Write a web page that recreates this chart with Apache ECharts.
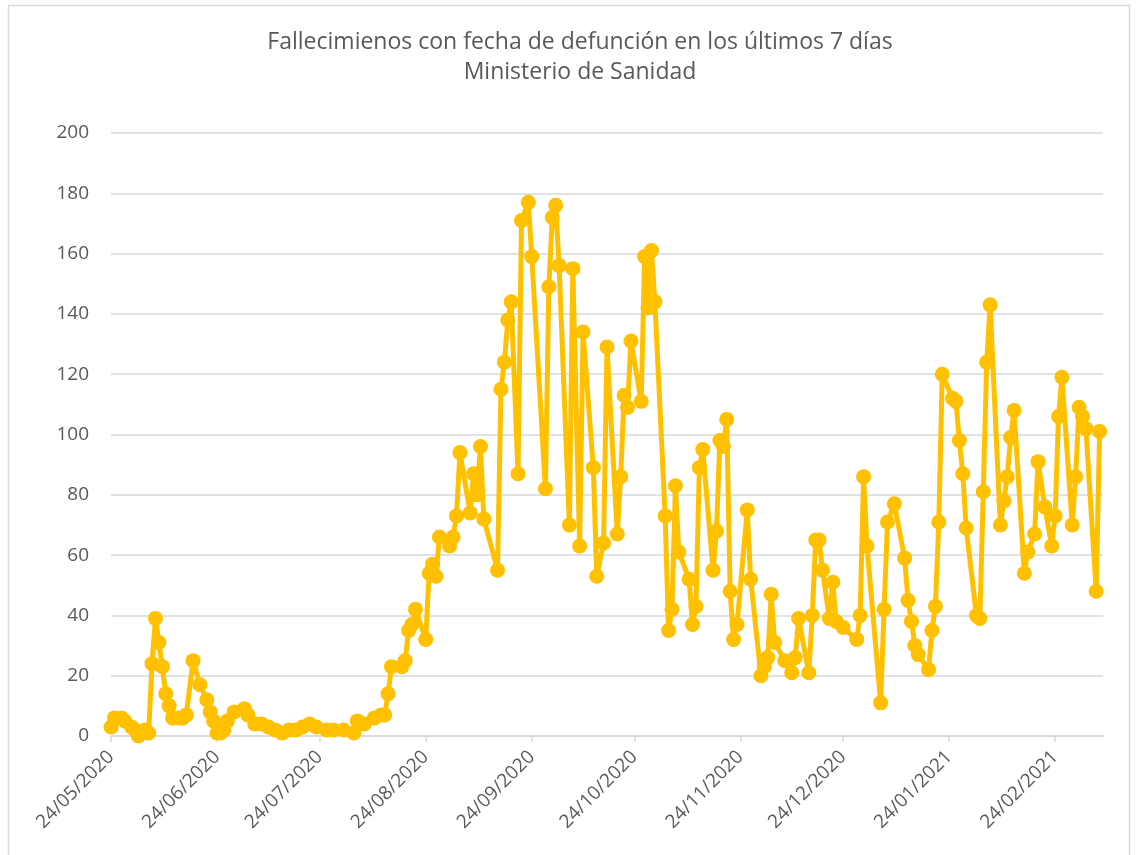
<!DOCTYPE html>
<html>
<head>
<meta charset="utf-8">
<script src="https://cdn.jsdelivr.net/npm/echarts@6/dist/echarts.min.js"></script>
<style>
  html, body { margin: 0; padding: 0; background: #fff; }
  #chart { width: 1136px; height: 855px; }
</style>
</head>
<body>
<div id="chart"></div>
<script>
// days since 24/05/2020 for each published figure
const dayOffsets = [
  0, 1, 3, 4, 6, 7, 8, 10, 11, 12, 13, 14, 15, 16, 17, 18, 20, 21, 22, 24,
  26, 28, 29, 30, 31, 32, 33, 34, 36, 39, 40, 42, 44, 46, 48, 50, 52, 54, 56, 58,
  60, 63, 65, 68, 71, 72, 74, 77, 79, 80, 81, 82, 85, 86, 87, 88, 89, 92, 93, 94,
  95, 96, 99, 100, 101, 102, 105, 106, 107, 108, 109, 113, 114, 115, 116, 117, 119, 120, 122, 123,
  127, 128, 129, 130, 131, 134, 135, 137, 138, 141, 142, 144, 145, 148, 149, 150, 151, 152, 155, 156,
  157, 158, 159, 162, 163, 164, 165, 166, 169, 170, 171, 172, 173, 176, 177, 178, 179, 180, 181, 182,
  183, 186, 187, 190, 191, 192, 193, 194, 197, 199, 200, 201, 204, 205, 206, 207, 208, 210, 211, 212,
  214, 218, 219, 220, 221, 225, 226, 227, 229, 232, 233, 234, 235, 236, 239, 240, 241, 242, 243, 246,
  247, 248, 249, 250, 253, 254, 255, 256, 257, 260, 261, 262, 263, 264, 267, 268, 270, 271, 273, 275,
  276, 277, 278, 281, 282, 283, 284, 285, 288, 289
]

const deaths = [
  3, 6, 6, 5, 3, 2, 0, 2, 1, 24, 39, 31, 23, 14, 10, 6, 6, 6, 7, 25,
  17, 12, 8, 5, 1, 1, 2, 5, 8, 9, 7, 4, 4, 3, 2, 1, 2, 2, 3, 4,
  3, 2, 2, 2, 1, 5, 4, 6, 7, 7, 14, 23, 23, 25, 35, 37, 42, 32, 54, 57,
  53, 66, 63, 66, 73, 94, 74, 87, 80, 96, 72, 55, 115, 124, 138, 144, 87, 171, 177, 159,
  82, 149, 172, 176, 156, 70, 155, 63, 134, 89, 53, 64, 129, 67, 86, 113, 109, 131, 111, 159,
  142, 161, 144, 73, 35, 42, 83, 61, 52, 37, 43, 89, 95, 55, 68, 98, 96, 105, 48, 32,
  37, 75, 52, 20, 23, 26, 47, 31, 25, 21, 26, 39, 21, 40, 65, 65, 55, 39, 51, 38,
  36, 32, 40, 86, 63, 11, 42, 71, 77, 59, 45, 38, 30, 27, 22, 35, 43, 71, 120, 112,
  111, 98, 87, 69, 40, 39, 81, 124, 143, 70, 78, 86, 99, 108, 54, 61, 67, 91, 76, 63,
  73, 106, 119, 70, 86, 109, 106, 102, 48, 101
]

const tickDates = [
  '24/05/2020', '24/06/2020', '24/07/2020', '24/08/2020', '24/09/2020',
  '24/10/2020', '24/11/2020', '24/12/2020', '24/01/2021', '24/02/2021'
]

const titleLines = [
  'Fallecimienos con fecha de defunción en los últimos 7 días',
  'Ministerio de Sanidad'
]

const DAY = 86400000
const toTime = (s) => {
  const [d, m, y] = s.split('/').map(Number)
  return Date.UTC(y, m - 1, d)
}
const start = toTime(tickDates[0])
const pad = (n) => n.toString().padStart(2, '0')

const seriesData = dayOffsets.map((d, i) => [d, deaths[i]])
const tickValues = tickDates.map(s => Math.round((toTime(s) - start) / DAY))

const textColor = '#595959'
const gridColor = '#d9d9d9'
const fontFamily = '"Open Sans", sans-serif'

const chart = echarts.init(document.getElementById('chart'), null, { renderer: 'canvas' })

chart.setOption({
  backgroundColor: '#fff',
  animation: false,
  graphic: [{
    type: 'rect',
    shape: { x: 8.5, y: 5.5, width: 1121, height: 870 },
    style: { fill: 'none', stroke: '#d9d9d9', lineWidth: 1.5 },
    silent: true
  }],
  title: {
    text: titleLines.join('\n'),
    left: 575,
    top: 22,
    textAlign: 'center',
    textStyle: {
      color: textColor,
      fontSize: 23,
      fontWeight: 'normal',
      fontFamily: fontFamily,
      lineHeight: 30
    }
  },
  grid: {
    left: 111,
    right: 33,
    top: 133,
    bottom: 119,
    containLabel: false
  },
  xAxis: {
    type: 'value',
    min: 0,
    max: 290,
    axisLine: { show: true, onZero: false, lineStyle: { color: gridColor, width: 1.5 } },
    axisTick: {
      show: true,
      length: 6,
      customValues: tickValues,
      lineStyle: { color: gridColor, width: 1.5 }
    },
    axisLabel: {
      customValues: tickValues,
      rotate: 45,
      margin: 18,
      color: textColor,
      fontSize: 19,
      fontFamily: fontFamily,
      formatter: (value) => {
        const date = new Date(start + value * DAY)
        return `${pad(date.getUTCDate())}/${pad(date.getUTCMonth() + 1)}/${date.getUTCFullYear()}`
      }
    },
    splitLine: { show: false }
  },
  yAxis: {
    type: 'value',
    min: 0,
    max: 200,
    interval: 20,
    axisLine: { show: false },
    axisTick: { show: false },
    axisLabel: {
      color: textColor,
      fontSize: 19,
      fontFamily: fontFamily,
      margin: 22
    },
    splitLine: { show: true, lineStyle: { color: gridColor, width: 1.5 } }
  },
  series: [{
    name: 'Fallecimientos',
    type: 'line',
    data: seriesData,
    symbol: 'circle',
    symbolSize: 15,
    showSymbol: true,
    showAllSymbol: true,
    itemStyle: { color: '#FFC000' },
    lineStyle: { color: '#FFC000', width: 5 }
  }]
})
</script>
</body>
</html>
